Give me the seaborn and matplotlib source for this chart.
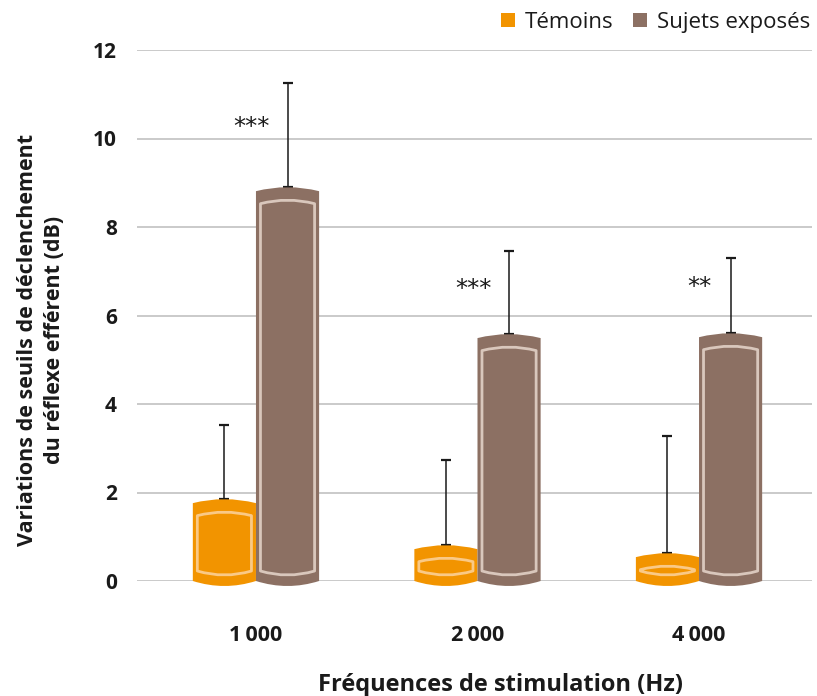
import numpy as np
import pandas as pd
import matplotlib
matplotlib.use("Agg")
import matplotlib.pyplot as plt
from matplotlib.path import Path
from matplotlib.patches import PathPatch, Patch
import seaborn as sns

# Data
frequencies = ["1\u2009000", "2\u2009000", "4\u2009000"]
groups = ["Témoins", "Sujets exposés"]
temoins_mean = [1.85, 0.81, 0.63]
exposes_mean = [8.90, 5.58, 5.60]
temoins_sd = [1.68, 1.92, 2.65]
exposes_sd = [2.35, 1.88, 1.70]
significance = ["***", "***", "**"]
star_height = [10.25, 6.6, 6.65]
y_ticks = [0, 2, 4, 6, 8, 10, 12]

colors = {"Témoins": "#F29400", "Sujets exposés": "#8C7063"}
inner_colors = {"Témoins": "#FAC986", "Sujets exposés": "#D9C7BC"}

df = pd.DataFrame({
    "freq": frequencies * 2,
    "group": [groups[0]] * 3 + [groups[1]] * 3,
    "value": temoins_mean + exposes_mean,
})

sns.set_theme(style="white")
plt.rcParams["font.family"] = ["Open Sans", "DejaVu Sans"]

W, H = 817, 696
fig = plt.figure(figsize=(W / 100, H / 100), dpi=100)
ax_left, ax_right, ax_top, ax_bot = 137, 812, 50, 581
ax = fig.add_axes([ax_left / W, (H - ax_bot) / H, (ax_right - ax_left) / W, (ax_bot - ax_top) / H])

sns.barplot(data=df, x="freq", y="value", hue="group", hue_order=groups,
            palette=colors, width=0.57, gap=0, errorbar=None, legend=False,
            ax=ax, zorder=3)

xlim = (-0.537, 2.51)
ylim = (0, 12)
ax.set_xlim(*xlim)
ax.set_ylim(*ylim)
sx = (xlim[1] - xlim[0]) / (ax_right - ax_left)   # data units per pixel
sy = (ylim[1] - ylim[0]) / (ax_bot - ax_top)


def cylinder_path(x0, w, top, base=0.0):
    dt, db = 4 * sy, 5 * sy
    xc, x1 = x0 + w / 2, x0 + w
    verts = [(x0, base), (x0, top - dt), (xc, top + dt), (x1, top - dt),
             (x1, base), (xc, base - 2 * db), (x0, base), (x0, base)]
    codes = [Path.MOVETO, Path.LINETO, Path.CURVE3, Path.CURVE3,
             Path.LINETO, Path.CURVE3, Path.CURVE3, Path.CLOSEPOLY]
    return Path(verts, codes)


def inner_path(x0, w, top, base=0.0):
    ix = 4.5 * sx
    a0, a1 = x0 + ix, x0 + w - ix
    xc = x0 + w / 2
    t = top - 13 * sy
    dt = 3.5 * sy
    b = base + 6 * sy
    db = 4 * sy
    verts = [(a0, b + db), (a0, t - dt), (xc, t + dt), (a1, t - dt),
             (a1, b + db), (xc, b - db), (a0, b + db), (a0, b + db)]
    codes = [Path.MOVETO, Path.LINETO, Path.CURVE3, Path.CURVE3,
             Path.LINETO, Path.CURVE3, Path.CURVE3, Path.CLOSEPOLY]
    return Path(verts, codes)


centers = {}
for grp, container in zip(groups, ax.containers):
    xs = []
    for bar in container.patches:
        x0, w, h = bar.get_x(), bar.get_width(), bar.get_height()
        bar.set_visible(False)
        ax.add_patch(PathPatch(cylinder_path(x0, w, h), facecolor=colors[grp],
                               edgecolor="none", zorder=3, clip_on=False))
        ax.add_patch(PathPatch(inner_path(x0, w, h), facecolor="none",
                               edgecolor=inner_colors[grp], lw=2.0,
                               joinstyle="round", zorder=4, clip_on=False))
        xs.append(x0 + w / 2)
    centers[grp] = xs

# Upper error bars (standard deviation)
for grp, means, sds in [(groups[0], temoins_mean, temoins_sd),
                        (groups[1], exposes_mean, exposes_sd)]:
    ax.errorbar(centers[grp], means, yerr=[np.zeros(len(sds)), sds], fmt="none",
                ecolor="#1a1a1a", elinewidth=1.1, capsize=3.3, capthick=1.6,
                zorder=2)

# Significance markers
for i, (s, yh) in enumerate(zip(significance, star_height)):
    ax.text(i - 0.02 if i < 2 else i, yh, s, ha="center", va="center",
            fontsize=17.5, color="#1a1a1a", family=["DejaVu Sans"])

# Grid and axes styling
ax.set_yticks(y_ticks)
ax.set_yticklabels([str(t) for t in y_ticks], fontweight="bold", fontsize=15)
ax.set_xticks(range(len(frequencies)))
ax.set_xticklabels(frequencies, fontweight="bold", fontsize=15.5)
ax.yaxis.grid(True, color="#c6c6c6", lw=1.3, zorder=0)
ax.set_axisbelow(True)
for sp in ax.spines.values():
    sp.set_visible(False)
ax.tick_params(axis="y", length=0, pad=14.5, labelcolor="#1a1a1a")
ax.tick_params(axis="x", length=0, pad=32, labelcolor="#1a1a1a")
ax.set_xlabel("")
ax.set_ylabel("")

fig.text(41 / W, 1 - 340 / H,
         "Variations de seuils de déclenchement\ndu réflexe efférent (dB)",
         rotation=90, ha="center", va="center", fontsize=15.5, fontweight="bold",
         color="#1a1a1a", linespacing=1.4)
fig.text(500 / W, 1 - 685 / H, "Fréquences de stimulation (Hz)", ha="center",
         va="center", fontsize=17, fontweight="bold", color="#1a1a1a")

handles = [Patch(facecolor=colors[g], edgecolor="none", label=g) for g in groups]
fig.legend(handles=handles, loc="upper right", bbox_to_anchor=(1.013, 1.008),
           ncol=2, frameon=False, fontsize=16, handlelength=0.6,
           handleheight=0.6, handletextpad=0.45, columnspacing=0.9,
           borderaxespad=0.4, labelcolor="#1a1a1a")

fig.savefig("out.png", dpi=100)
